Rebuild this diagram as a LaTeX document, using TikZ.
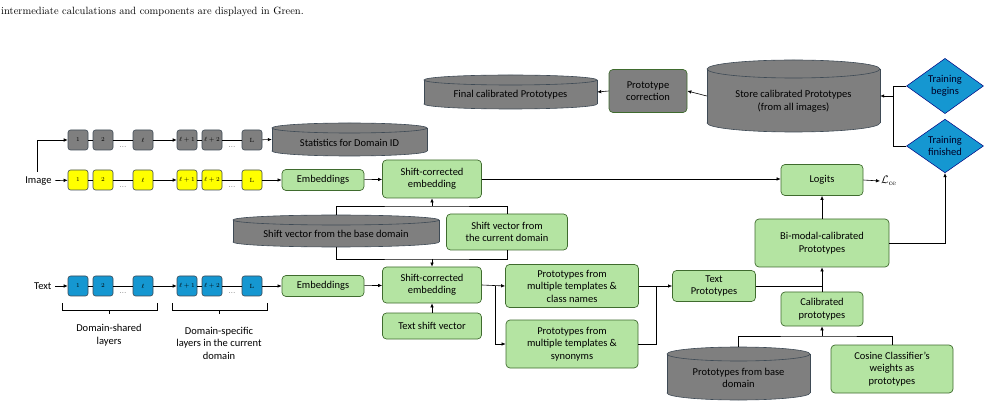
\documentclass[tikz,border=0pt]{standalone}
\usepackage{fontspec}
\newfontfamily\carl{Carlito}
\usetikzlibrary{arrows.meta,shapes.geometric}
\definecolor{gfill}{HTML}{B4E4A2}
\definecolor{gdraw}{HTML}{3F6B2E}
\definecolor{grey}{HTML}{7F7F7F}
\definecolor{greyd}{HTML}{3E4A55}
\definecolor{blu}{HTML}{1597D1}
\definecolor{yel}{HTML}{FFFF00}
\tikzset{
 arr/.style={-{Latex[length=4pt,width=3.5pt]},line width=0.6pt},
 ln/.style={line width=0.6pt},
 gbox/.style={rectangle,rounded corners=4pt,fill=gfill,draw=gdraw,line width=0.7pt,align=center,font=\carl\fontsize{10.5}{12.5}\selectfont,inner sep=1pt},
 pcbox/.style={gbox,fill=grey},
 lay/.style={rectangle,rounded corners=2.5pt,draw=greyd,line width=0.6pt,minimum width=20pt,minimum height=20pt,inner sep=0pt,font=\fontsize{6}{6}\selectfont},
 cyl/.style={fill=grey,draw=greyd,line width=0.6pt},
 dia/.style={diamond,fill=blu,draw=blue!50!black,line width=0.5pt,minimum width=77pt,minimum height=53pt,inner sep=0pt,align=center,font=\carl\fontsize{10.5}{12.5}\selectfont,text=black!85!blue},
 lab/.style={font=\carl\fontsize{10.5}{12.5}\selectfont,align=center}
}
% name x1 y1 x2 y2 ry text
\newcommand\mycyl[7]{%
 \pgfmathsetmacro\cxx{(#2+#4)/2}\pgfmathsetmacro\rxx{(#4-#2)/2}%
 \pgfmathsetmacro\ytop{#3+#6}\pgfmathsetmacro\ybot{#5-#6}%
 \pgfmathsetmacro\cyy{(#3+#5)/2}\pgfmathsetmacro\ww{#4-#2}\pgfmathsetmacro\hh{#5-#3}%
 \filldraw[cyl] (\cxx,\ybot) ellipse[x radius=\rxx pt, y radius=#6 pt];
 \fill[grey] (#2,\ytop) rectangle (#4,\ybot);
 \draw[greyd,line width=0.6pt] (#2,\ytop) -- (#2,\ybot) (#4,\ytop) -- (#4,\ybot);
 \filldraw[cyl] (\cxx,\ytop) ellipse[x radius=\rxx pt, y radius=#6 pt];
 \node[rectangle,minimum width=\ww pt,minimum height=\hh pt,inner sep=0pt] (#1) at (\cxx,\cyy) {};
 \node[lab] at (\cxx,\cyy+#6*0.6) {#7};
}
% prefix y colour
\newcommand\layrow[3]{%
 \node[lay,fill=#3] (#1a) at (78,#2) {1};
 \node[lay,fill=#3] (#1b) at (103,#2) {2};
 \node[lay,fill=#3] (#1c) at (143,#2) {$\ell$};
 \node[lay,fill=#3] (#1d) at (187,#2) {$\ell+1$};
 \node[lay,fill=#3] (#1e) at (212,#2) {$\ell+2$};
 \node[lay,fill=#3] (#1f) at (252,#2) {L};
 \draw[ln] (#1a) -- (#1b); \draw[ln] (#1b) -- (#1c); \draw[arr] (#1c) -- (#1d);
 \draw[ln] (#1d) -- (#1e); \draw[ln] (#1e) -- (#1f);
 \node[font=\fontsize{7}{7}\selectfont] at (123,#2+7) {...};
 \node[font=\fontsize{7}{7}\selectfont] at (232,#2+7) {...};
}
\begin{document}
\begin{tikzpicture}[x=1pt,y=-1pt]
\useasboundingbox (0,0) rectangle (984,411);
\node[anchor=west,font=\fontsize{10.5}{12}\selectfont,inner sep=0pt] (cap) at (1,12) {intermediate calculations and components are displayed in Green.};

% layer rows
\layrow{g}{140}{grey}
\layrow{y}{180}{yel}
\layrow{t}{286}{blu}
\node[lab,anchor=east] (imgL) at (55,181) {Image};
\node[lab,anchor=east] (txtL) at (55,286) {Text};
\draw[arr] (imgL) -- (ya);
\draw[arr] (txtL) -- (ta);
\coordinate (ib) at (37,172);
\draw[arr] (ib) |- (ga.west);

\mycyl{stat}{272}{123}{427}{156}{5}{Statistics for Domain ID}
\draw[arr] (gf) -- (stat.west);

% image branch
\node[gbox,minimum width=82pt,minimum height=21pt] (embI) at (323,180) {Embeddings};
\node[gbox,minimum width=99pt,minimum height=38pt] (scI) at (432,179) {Shift-corrected\\embedding};
\draw[arr] (yf) -- (embI);
\draw[arr] (embI) -- (scI);

\mycyl{base}{233}{215}{439}{247}{5}{Shift vector from the base domain}
\node[gbox,minimum width=121pt,minimum height=36pt] (curr) at (507,232) {Shift vector from\\the current domain};
\coordinate (j1) at (432,206);
\coordinate (j2) at (432,259);
\draw[ln] (base.north) |- (j1) -| (curr.north);
\draw[ln] (base.south) |- (j2) -| (curr.south);
\draw[arr] (j1) -- (scI.south);

% text branch
\node[gbox,minimum width=82pt,minimum height=21pt] (embT) at (323,286) {Embeddings};
\node[gbox,minimum width=99pt,minimum height=36pt] (scT) at (432,285) {Shift-corrected\\embedding};
\node[gbox,minimum width=99pt,minimum height=26pt] (tsv) at (432,326) {Text shift vector};
\draw[arr] (tf) -- (embT);
\draw[arr] (embT) -- (scT);
\draw[arr] (j2) -- (scT.north);
\draw[arr] (tsv) -- (scT);

\node[gbox,minimum width=133pt,minimum height=43pt] (p1) at (572,286) {Prototypes from\\multiple templates \&\\class names};
\node[gbox,minimum width=132pt,minimum height=48pt] (p2) at (572,344) {Prototypes from\\multiple templates \&\\synonyms};
\coordinate (s1) at (495,286);
\draw[arr] (scT.east) -- (p1.west);
\draw[arr] (s1) |- (p2.west);
\coordinate (m1) at (656,286);
\draw[ln] (p2.east) -| (m1);
\draw[ln] (p1.east) -- (m1);
\node[gbox,minimum width=83pt,minimum height=31pt] (tp) at (714,286) {Text\\Prototypes};
\draw[arr] (m1) -- (tp.west);

\node[gbox,minimum width=134pt,minimum height=48pt] (bim) at (822,243) {Bi-modal-calibrated\\Prototypes};
\node[gbox,minimum width=82pt,minimum height=34pt] (cal) at (822,309) {Calibrated\\prototypes};
\node[gbox,minimum width=82pt,minimum height=31pt] (logit) at (822,180) {Logits};
\node[font=\fontsize{11}{12}\selectfont,anchor=west,inner sep=1pt] (lce) at (880,181) {$\mathcal{L}_{\mathrm{ce}}$};
\draw[ln] (tp.east) -- (tp.east -| cal.north);
\draw[arr] (cal.north) -- (bim.south);
\draw[arr] (bim.north) -- (logit.south);
\draw[arr] (logit.east) -- (lce.west);
\draw[arr] (scI.east) -- (scI.east -| logit.west);

\mycyl{bp}{667}{347}{810}{400}{7}{Prototypes from base\\domain}
\node[gbox,minimum width=122pt,minimum height=48pt] (cos) at (892,369) {Cosine Classifier’s\\weights as\\prototypes};
\coordinate (j3) at (822,336);
\draw[ln] (bp.north) |- (j3) -| (cos.north);
\draw[arr] (j3) -- (cal.south);

% top part
\node[dia] (beg) at (945,86) {Training\\begins};
\node[dia] (fin) at (945,146) {Training\\finished};
\draw[arr] (bim.east) -| (fin.south);
\mycyl{store}{707}{60}{880}{132}{9}{Store calibrated Prototypes\\(from all images)}
\coordinate (vv) at (893,96);
\draw[ln] (beg.west) -| (vv);
\draw[ln] (fin.west) -| (vv);
\draw[arr] (vv) -- (store.east);
\node[pcbox,minimum width=78pt,minimum height=43pt] (pc) at (648,91) {Prototype\\correction};
\mycyl{final}{424}{75}{597}{109}{5}{Final calibrated Prototypes}
\draw[arr] (store.west) -- (pc.east);
\draw[arr] (pc.west) -- (final.east);

% braces
\draw[ln] (62,303) -- (62,310) -- (157,310) -- (157,303) (109.5,310) -- (109.5,314);
\draw[ln] (172,303) -- (172,310) -- (267,310) -- (267,303) (219.5,310) -- (219.5,314);
\node[lab] (l1) at (109,335) {Domain-shared\\layers};
\node[lab] (l2) at (219,343) {Domain-specific\\layers in the current\\domain};
\end{tikzpicture}
\end{document}
